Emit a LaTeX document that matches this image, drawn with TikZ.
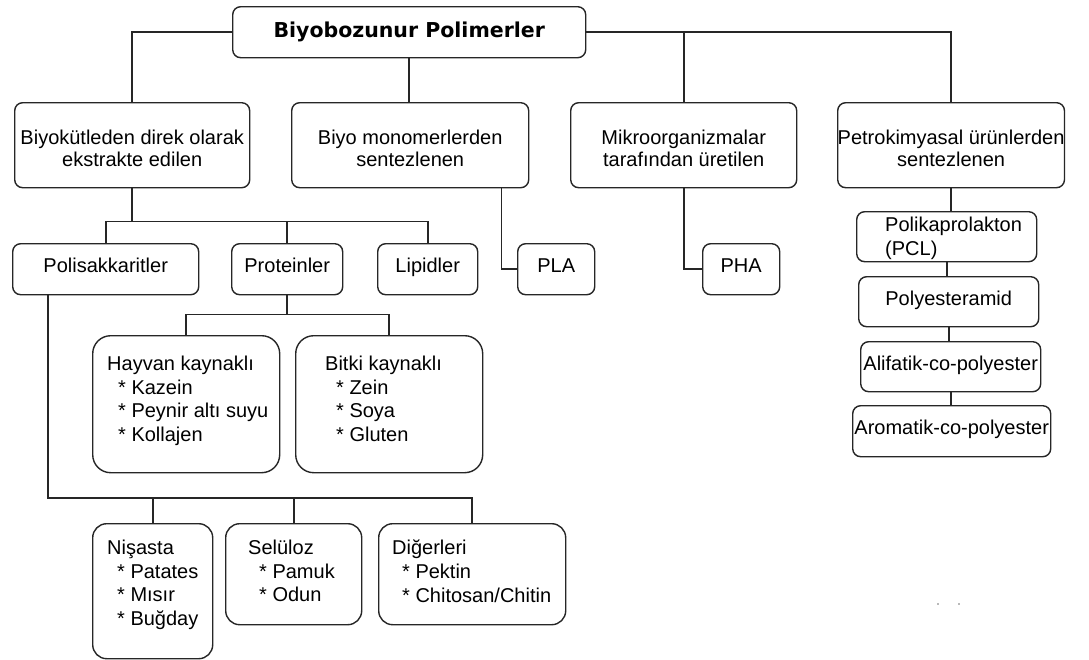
\documentclass[tikz,border=0pt]{standalone}
\usepackage{fontspec}
\setmainfont{Liberation Sans}
\newfontfamily\headfont{DejaVu Sans}
% struts that move a box's text slightly down or up inside it
\newcommand{\lowstrut}{\rule{0pt}{21pt}}
\newcommand{\highstrut}{\rule[-7pt]{0pt}{0pt}}
\begin{document}
\begin{tikzpicture}[x=1pt,y=-1pt,
  every node/.style={inner sep=0pt, text=black,
    font=\fontsize{20}{22}\selectfont},
  box/.style={draw=black!85, line width=1.4pt, rounded corners=8pt,
    anchor=north west, align=center},
  bigbox/.style={box, rounded corners=18pt},
  midbox/.style={box, rounded corners=14pt},
  listtext/.style={anchor=north west, align=left,
    font=\fontsize{20}{23.6}\selectfont},
  conn/.style={draw=black!85, line width=1.6pt}
]
% canvas
\path[fill=white] (0,0) rectangle (1089,659);
\useasboundingbox (0,0) rectangle (1089,659);

% root
\node[box, minimum width=353, minimum height=51] (title) at (232,6)
  {\headfont\bfseries\fontsize{20.5}{22}\selectfont Biyobozunur Polimerler};

% first level
\node[box, minimum width=235, minimum height=85] (b1) at (14,102)
  {\lowstrut Biyokütleden direk olarak\\ekstrakte edilen};
\node[box, minimum width=237, minimum height=85] (b2) at (291,102)
  {\lowstrut Biyo monomerlerden\\sentezlenen};
\node[box, minimum width=226, minimum height=85] (b3) at (570,102)
  {\lowstrut Mikroorganizmalar\\tarafından üretilen};
\node[box, minimum width=225, minimum height=85] (b4) at (837,102)
  {\lowstrut Petrokimyasal ürünlerden\\sentezlenen};

% second level
\node[box, minimum width=186, minimum height=51] (poly) at (12,243) {Polisakkaritler\highstrut};
\node[box, minimum width=111, minimum height=51] (prot) at (231,243) {Proteinler\highstrut};
\node[box, minimum width=100, minimum height=51] (lip) at (377,243) {Lipidler\highstrut};
\node[box, minimum width=77, minimum height=51] (pla) at (517,243) {PLA\highstrut};
\node[box, minimum width=77, minimum height=51] (pha) at (702,243) {PHA\highstrut};

% protein sources
\node[bigbox, minimum width=187, minimum height=137] (hay) at (92,335) {};
\node[listtext] (hayT) at (107,356)
  {Hayvan kaynaklı\\\hspace*{11pt}* Kazein\\\hspace*{11pt}* Peynir altı suyu\\\hspace*{11pt}* Kollajen};
\node[bigbox, minimum width=187, minimum height=137] (bit) at (295,335) {};
\node[listtext] (bitT) at (325,356)
  {Bitki kaynaklı\\\hspace*{11pt}* Zein\\\hspace*{11pt}* Soya\\\hspace*{11pt}* Gluten};

% polysaccharide types
\node[midbox, minimum width=120, minimum height=135] (nis) at (92,523) {};
\node[listtext] (nisT) at (107,540)
  {Nişasta\\\hspace*{10pt}* Patates\\\hspace*{10pt}* Mısır\\\hspace*{10pt}* Buğday};
\node[midbox, minimum width=136, minimum height=101] (sel) at (225,523) {};
\node[listtext] (selT) at (248,540)
  {Selüloz\\\hspace*{11pt}* Pamuk\\\hspace*{11pt}* Odun};
\node[midbox, minimum width=187, minimum height=101] (dig) at (378,523) {};
\node[listtext] (digT) at (392,540)
  {Diğerleri\\\hspace*{10pt}* Pektin\\\hspace*{10pt}* Chitosan/Chitin};

% petrochemical column
\node[box, minimum width=180, minimum height=50] (pcl) at (856,211) {};
\node[listtext, font=\fontsize{20}{24}\selectfont] (pclT) at (885,217)
  {Polikaprolakton\\(PCL)};
\node[box, minimum width=180, minimum height=50] (pea) at (858,276) {Polyesteramid\highstrut};
\node[box, minimum width=180, minimum height=50] (ali) at (860,341) {Alifatik-co-polyester\highstrut};
\node[box, minimum width=198, minimum height=51] (aro) at (852,405) {Aromatik-co-polyester\highstrut};

% connectors: root
\draw[conn] (title.west) -| (b1.north);
\draw[conn] (title.south) -- (title.south |- b2.north);
\draw[conn] (title.east) -| (b4.north);
\coordinate (j3) at (b3.north |- title.east);
\draw[conn] (j3) -- (b3.north);

% connectors: biomass branch
\path (b1.south) ++(0,33) coordinate (k1);
\draw[conn] (b1.south) -- (k1);
\draw[conn] (poly.north) |- (k1);
\draw[conn] (lip.north) |- (k1);
\draw[conn] (prot.north) -- (prot.north |- k1);

% connectors: proteins
\path (prot.south) ++(0,19) coordinate (k2);
\draw[conn] (prot.south) -- (k2);
\draw[conn] (hay.north) |- (k2);
\draw[conn] (bit.north) |- (k2);

% connectors: polysaccharides
\coordinate (p0) at ([xshift=36pt]poly.south west);
\coordinate (k3) at ([yshift=25pt]dig.north);
\draw[conn] (p0) |- (k3) -- (dig.north);
\draw[conn] (nis.north) -- (nis.north |- k3);
\draw[conn] (sel.north) -- (sel.north |- k3);

% connectors: PLA, PHA
\coordinate (c2) at ([xshift=-28pt]b2.south east);
\draw[conn] (c2) |- (pla.west);
\draw[conn] (b3.south) |- (pha.west);

% connectors: petrochemical column
\draw[conn] (b4.south) -- (b4.south |- pcl.north);
\draw[conn] (pcl.south) -- (pcl.south |- pea.north);
\draw[conn] (pea.south) -- (pea.south |- ali.north);
\draw[conn] (ali.south) -- (ali.south |- aro.north);

% two stray specks
\fill[black!55] (938,604) circle[radius=0.9pt];
\fill[black!55] (959,604) circle[radius=0.9pt];
\end{tikzpicture}
\end{document}
